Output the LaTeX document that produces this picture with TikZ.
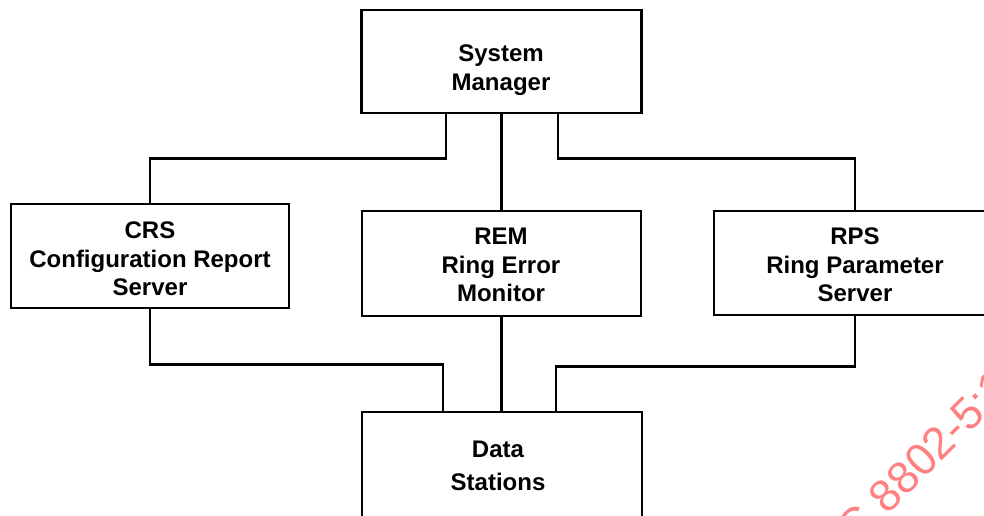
\documentclass[tikz,border=0pt]{standalone}
\usepackage{fontspec}
\setmainfont{Liberation Sans}
\definecolor{wmred}{RGB}{255,128,128}
\begin{document}
\begin{tikzpicture}[x=1pt,y=-1pt,
  box/.style={draw, line width=2.8pt, inner sep=0pt},
  txt/.style={align=center, inner sep=0pt, font=\bfseries\fontsize{24}{28.5}\selectfont},
  txtwide/.style={align=center, inner sep=0pt, font=\bfseries\fontsize{24}{33}\selectfont},
  link/.style={line width=2.8pt, line join=miter},
  wm/.style={inner sep=0pt, text=wmred, font=\fontsize{45}{45}\selectfont, rotate=45}]
\useasboundingbox (0,0) rectangle (984,515);
\clip (0,0) rectangle (984,515);
% boxes
\node[box, minimum width=280pt, minimum height=103pt] (sm)  at (501.5,61.5) {};
\node[box, minimum width=278pt, minimum height=104pt] (crs) at (150,256) {};
\node[box, minimum width=279pt, minimum height=105pt] (rem) at (501.5,263.5) {};
\node[box, minimum width=282pt, minimum height=104pt] (rps) at (855,263) {};
\node[box, minimum width=280pt, minimum height=110pt] (ds)  at (502,467) {};
% texts
\node[txt] (smt)  at (501,70)  {System\\Manager};
\node[txt] (crst) at (150,259) {CRS\\Configuration Report\\Server};
\node[txt] (remt) at (501,265) {REM\\Ring Error\\Monitor};
\node[txt] (rpst) at (855,265) {RPS\\Ring Parameter\\Server};
\node[txtwide] (dst) at (498,465.5) {Data\\Stations};
% connectors
\draw[link] (sm.south) -- (rem.north);
\draw[link] (rem.south) -- (rem.south |- ds.north);
\draw[link] ([xshift=-55.5pt]sm.south) -- ++(0,44) -| (crs.north);
\draw[link] ([xshift=56.5pt]sm.south) -- ++(0,44) -| (rps.north);
\draw[link] (crs.south) -- ++(0,55) -| ([xshift=-59pt]ds.north);
\draw[link] (rps.south) -- ++(0,50) -| ([xshift=54pt]ds.north);
% watermark
\node[wm, anchor=base west] (wmk) at (887.6,515.2) {\llap{ISO/IEC\ }8802-5:1998};
\end{tikzpicture}
\end{document}
